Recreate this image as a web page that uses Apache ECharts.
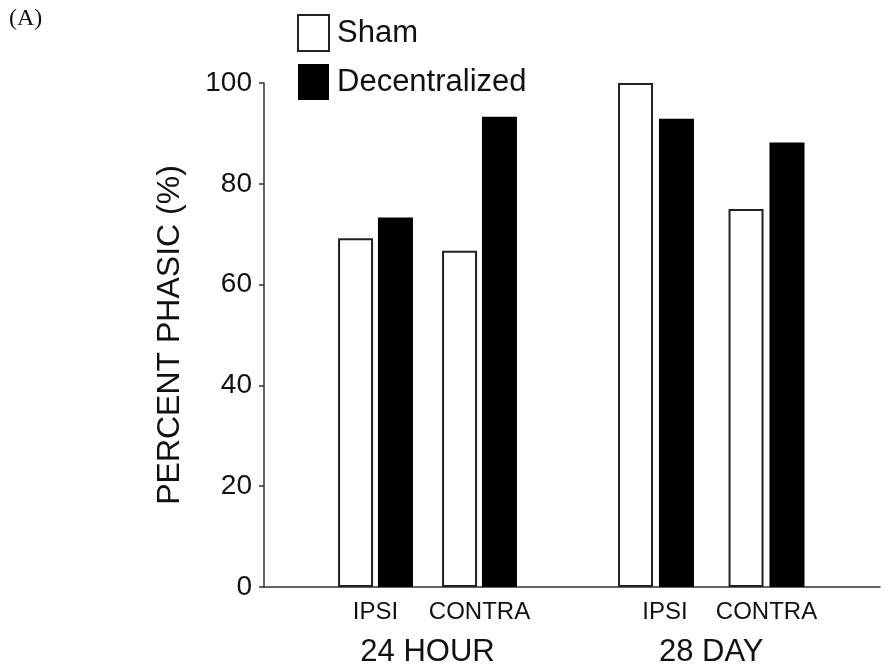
<!DOCTYPE html>
<html>
<head>
<meta charset="utf-8">
<script src="https://cdn.jsdelivr.net/npm/echarts@6/dist/echarts.min.js"></script>
<style>
  html, body { margin: 0; padding: 0; background: #fff; }
  #chart { width: 887px; height: 671px; }
</style>
</head>
<body>
<div id="chart"></div>
<script>
// Percent of phasic neurons, sham vs decentralized, by side and time point
const seriesNames = ['Sham', 'Decentralized'];
const sides = ['IPSI', 'CONTRA'];
const timePoints = ['24 HOUR', '28 DAY'];
const sham24h = [69.2, 66.7];
const decentralized24h = [73.3, 93.3];
const sham28d = [100, 75];
const decentralized28d = [92.9, 88.2];
const yTicks = { min: 0, max: 100, interval: 20 };

const FONT = '"Liberation Sans", Arial, Helvetica, sans-serif';
const TOP = 83, BOTTOM = 84;

const shamStyle = { color: '#ffffff', borderColor: '#222', borderWidth: 2 };
const decStyle = { color: '#000000', borderColor: '#000', borderWidth: 0 };

function subAxisX(gridIndex, name, labelPad) {
  return {
    type: 'category', gridIndex: gridIndex,
    data: sides.map((s, i) => ({ value: s, textStyle: { padding: labelPad[i] } })),
    axisLine: { show: false }, axisTick: { show: false }, splitLine: { show: false },
    axisLabel: { color: '#111', fontFamily: FONT, fontSize: 24, margin: 13, interval: 0 },
    name: name, nameLocation: 'middle', nameGap: 50,
    nameTextStyle: { color: '#111', fontFamily: FONT, fontSize: 31 }
  };
}
function subAxisY(gridIndex) {
  return {
    type: 'value', gridIndex: gridIndex, min: yTicks.min, max: yTicks.max,
    show: false, splitLine: { show: false }
  };
}
function plotGrid(extra) {
  return Object.assign({ top: TOP, bottom: BOTTOM, outerBoundsMode: 'none', containLabel: false }, extra);
}

const chart = echarts.init(document.getElementById('chart'), null, { renderer: 'canvas' });
chart.setOption({
  backgroundColor: '#fff',
  animation: false,
  legend: {
    data: [
      { name: seriesNames[0], itemStyle: shamStyle },
      { name: seriesNames[1], itemStyle: decStyle }
    ],
    orient: 'vertical', left: 292, top: 9,
    itemWidth: 31, itemHeight: 36, itemGap: 12,
    icon: 'rect',
    textStyle: { color: '#111', fontFamily: FONT, fontSize: 31, padding: [0, 0, 0, 3] }
  },
  graphic: [{
    type: 'text', left: 9, top: 7,
    style: { text: '(A)', fill: '#111', font: '24px "Liberation Serif", "Times New Roman", serif' }
  }],
  grid: [
    plotGrid({ left: 264, right: 7 }),
    plotGrid({ left: 323.5, width: 208 }),
    plotGrid({ left: 600.75, width: 221 })
  ],
  xAxis: [
    {
      type: 'value', gridIndex: 0, min: 0, max: 1,
      axisLine: { show: true, lineStyle: { color: '#333', width: 1.5 } },
      axisTick: { show: false }, axisLabel: { show: false }, splitLine: { show: false }
    },
    subAxisX(1, timePoints[0], [0, 0]),
    subAxisX(2, timePoints[1], [[0, 0, 0, 18], 0])
  ],
  yAxis: [
    {
      type: 'value', gridIndex: 0,
      min: yTicks.min, max: yTicks.max, interval: yTicks.interval,
      axisLine: { show: true, lineStyle: { color: '#333', width: 1.5 } },
      axisTick: { show: true, length: 5, lineStyle: { color: '#333', width: 1.5 } },
      axisLabel: { color: '#111', fontFamily: FONT, fontSize: 28, margin: 12 },
      splitLine: { show: false },
      name: 'PERCENT PHASIC (%)', nameLocation: 'middle', nameGap: 78,
      nameTextStyle: { color: '#111', fontFamily: FONT, fontSize: 32 }
    },
    subAxisY(1),
    subAxisY(2)
  ],
  series: [
    { name: seriesNames[0], type: 'bar', xAxisIndex: 1, yAxisIndex: 1, data: sham24h,
      barWidth: 35, barGap: '14%', itemStyle: shamStyle },
    { name: seriesNames[1], type: 'bar', xAxisIndex: 1, yAxisIndex: 1, data: decentralized24h,
      barWidth: 35, barGap: '14%', itemStyle: decStyle },
    { name: seriesNames[0], type: 'bar', xAxisIndex: 2, yAxisIndex: 2, data: sham28d,
      barWidth: 35, barGap: '17%', itemStyle: shamStyle },
    { name: seriesNames[1], type: 'bar', xAxisIndex: 2, yAxisIndex: 2, data: decentralized28d,
      barWidth: 35, barGap: '17%', itemStyle: decStyle }
  ]
});
</script>
</body>
</html>
